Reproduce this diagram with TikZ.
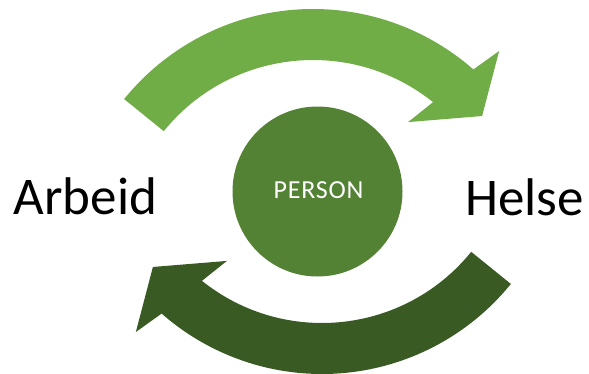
\documentclass[tikz,border=0pt]{standalone}
\usepackage{fontspec}
\setmainfont{Carlito}
\begin{document}
\begin{tikzpicture}[x=1pt,y=1pt]
  \definecolor{lightgreen}{HTML}{70AD47}
  \definecolor{midgreen}{HTML}{548235}
  \definecolor{darkgreen}{HTML}{3A5A24}
  \tikzset{
    label/.style={font=\fontsize{53}{60}\selectfont, text=black, inner sep=0pt, anchor=base},
    hub/.style={circle, fill=midgreen, minimum size=170pt, inner sep=0pt},
  }
  \useasboundingbox (0,0) rectangle (589,373);

  % curved arrow shape, drawn in polar coordinates about its arc centre
  \newcommand{\curvedarrow}{%
    (141:243) arc[start angle=141, end angle=48.7, radius=243]
    -- (47.2:274) -- (38.8:217) -- (53.8:161) -- (51.3:192)
    arc[start angle=51.3, end angle=141, radius=192] -- cycle}

  % upper arrow: Arbeid -> Helse
  \begin{scope}[shift={(313,121)}]
    \fill[lightgreen] \curvedarrow;
  \end{scope}
  % lower arrow: Helse -> Arbeid
  \begin{scope}[shift={(322,242)}, rotate=180]
    \fill[darkgreen] \curvedarrow;
  \end{scope}

  \node[hub] (person) at (317.5,181.5) {};
  \node[font=\fontsize{26}{30}\selectfont\addfontfeature{LetterSpace=3}, text=white, inner sep=0pt, anchor=base] (ptext) at (318.5,175) {PERSON};

  \node[label] (arbeid) at (85.5,159) {Arbeid};
  \node[label] (helse) at (524.5,158) {Helse};
\end{tikzpicture}
\end{document}
